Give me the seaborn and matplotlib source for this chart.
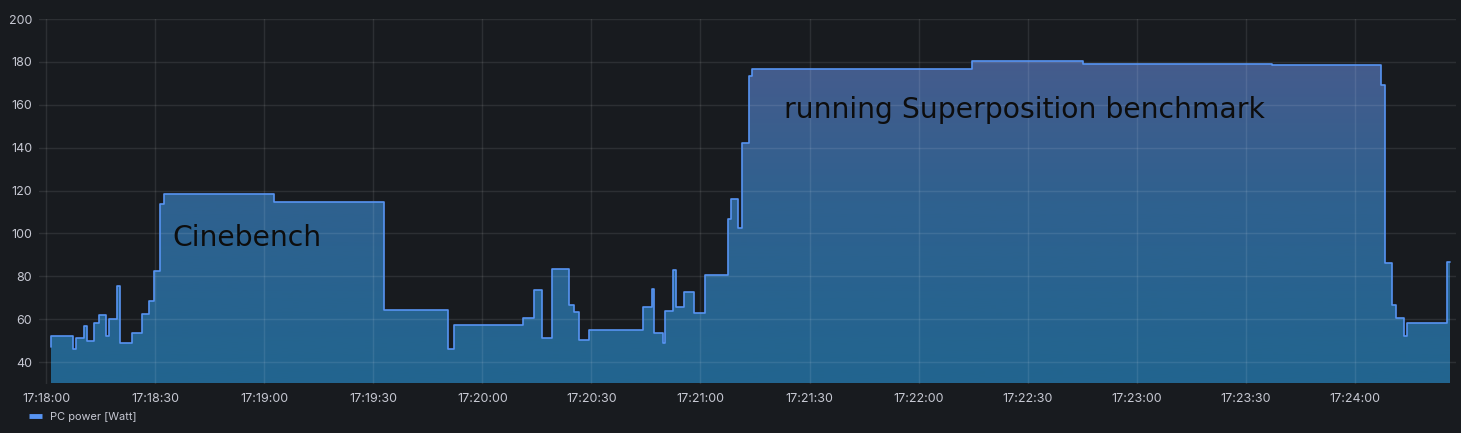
import numpy as np
import pandas as pd
import matplotlib
matplotlib.use("Agg")
import matplotlib.pyplot as plt
import seaborn as sns
from matplotlib.colors import LinearSegmentedColormap
from matplotlib.lines import Line2D

# ---- data (seconds after 17:18:00, value held until next sample) ----
seconds = [1.3, 1.5, 7.5, 8.2, 10.5, 11.4, 13.3, 14.5, 16.5, 17.4, 19.4, 20.3,
           23.6, 26.5, 28.4, 29.6, 31.4, 32.5, 62.7, 93.0, 110.5, 112.2,
           131.3, 134.3, 136.5, 139.2, 143.9, 145.3, 146.5, 149.4, 164.3,
           166.7, 167.3, 169.6, 170.3, 172.4, 173.3, 175.4, 178.3, 181.3,
           187.5, 188.5, 190.4, 191.5, 193.3, 194.3, 254.6, 285.1, 314.6,
           337.1, 367.1, 368.4, 370.3, 371.3, 373.4, 374.2, 385.4, 386.2]
watts = [47, 52, 46, 51, 57, 50, 58, 62, 52, 60, 75.5, 49,
         53.5, 62.5, 68.5, 82.5, 113.7, 118.3, 114.7, 64.3, 46, 57.2,
         60.4, 73.5, 51.1, 83.5, 66.6, 63.2, 50.3, 55, 65.6,
         74, 53.6, 49, 63.6, 82.8, 65.8, 72.8, 62.7, 80.4,
         106.6, 116, 102.4, 142, 173.4, 176.6, 180.3, 179.2, 178.9,
         178.4, 169.4, 86.3, 66.5, 60.7, 52.3, 58, 86.7, 86.7]

x_tick_seconds = [0, 30, 60, 90, 120, 150, 180, 210, 240, 270, 300, 330, 360]
x_tick_labels = ["17:18:00", "17:18:30", "17:19:00", "17:19:30", "17:20:00",
                 "17:20:30", "17:21:00", "17:21:30", "17:22:00", "17:22:30",
                 "17:23:00", "17:23:30", "17:24:00"]
y_ticks = [40, 60, 80, 100, 120, 140, 160, 180, 200]
series_name = "PC power [Watt]"
note_labels = ["Cinebench", "running Superposition benchmark"]

# ---- style ----
BG = "#181b1f"
GRID = "#ffffff"
TEXT = "#c6c8d2"
LINE = "#5794f2"

sns.set_theme(style="dark")
plt.rcParams['font.family'] = ['Inter', 'DejaVu Sans']

df = pd.DataFrame({"t": seconds, "w": watts})

W, H = 1461, 433
fig = plt.figure(figsize=(W / 100, H / 100), dpi=100, facecolor=BG)
left, right, top, bottom = 39, 1456, 19, 383.5
ax = fig.add_axes([left / W, 1 - bottom / H, (right - left) / W, (bottom - top) / H])
ax.set_facecolor(BG)
for s in ax.spines.values():
    s.set_visible(False)

xmin, xmax = -1.93, 387.8
ymin, ymax = 30, 200
ax.set_xlim(xmin, xmax)
ax.set_ylim(ymin, ymax)

# gradient fill under the step line
poly = ax.fill_between(df["t"], df["w"], ymin, step="post", facecolor="none",
                       edgecolor="none")
cmap = LinearSegmentedColormap.from_list("grad", ["#22658f", "#2f618f", "#4c5a8c"])
grad = np.linspace(0, 1, 256).reshape(-1, 1)
im = ax.imshow(grad, cmap=cmap, origin="lower", aspect="auto",
               extent=[xmin, xmax, ymin, ymax], zorder=1, interpolation="bicubic")
im.set_clip_path(poly.get_paths()[0], ax.transData)

# grid
for yt in y_ticks:
    ax.axhline(yt, color=GRID, alpha=0.09, lw=1, zorder=2)
for xt in x_tick_seconds:
    ax.axvline(xt, color=GRID, alpha=0.09, lw=1, zorder=2)
ax.grid(False)

sns.lineplot(data=df, x="t", y="w", drawstyle="steps-post", color=LINE,
             linewidth=1.2, ax=ax, legend=False, zorder=3)

ax.set_xticks(x_tick_seconds)
ax.set_xticklabels(x_tick_labels)
ax.set_yticks(y_ticks)
ax.set_yticklabels([str(v) for v in y_ticks])
ax.tick_params(axis="both", length=0, colors=TEXT, labelsize=9)
ax.tick_params(axis="x", pad=7)
ax.tick_params(axis="y", pad=5)
ax.set_xlabel("")
ax.set_ylabel("")

# annotations
ax.text(34.7, 94.1, note_labels[0], fontsize=20.3, color="#0d0d0d",
        family="DejaVu Sans", va="baseline", ha="left", zorder=4)
ax.text(203.0, 153.7, note_labels[1], fontsize=20.3, color="#0d0d0d",
        family="DejaVu Sans", va="baseline", ha="left", zorder=4)

# legend
handle = Line2D([0], [0], color=LINE, lw=3.5, solid_capstyle="butt")
leg = ax.legend([handle], [series_name], loc="center left",
                bbox_to_anchor=(19 / W, 1 - 417 / H), bbox_transform=fig.transFigure,
                frameon=False, fontsize=7.9, handlelength=1.2, handletextpad=0.7)
for t in leg.get_texts():
    t.set_color(TEXT)

fig.savefig("out.png", dpi=100, facecolor=BG)
